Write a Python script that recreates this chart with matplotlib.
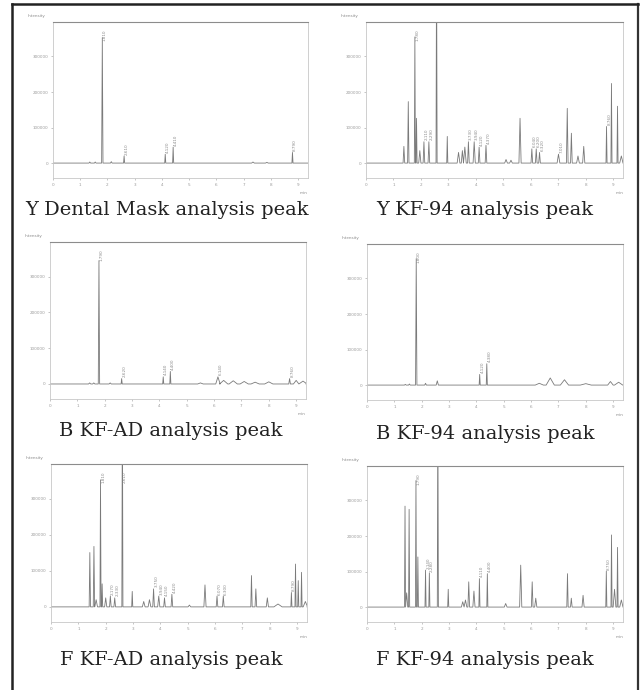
"""Six GC chromatograms of mask extracts, laid out as a 3x2 figure"""

import matplotlib
matplotlib.use('Agg')
import matplotlib.pyplot as plt
import numpy as np

W, H = 640, 690

# --- peak tables: retention time (min), height, half width (min)
y_dental_rt = [1.35, 1.55, 1.81, 2.14, 2.61, 4.12, 4.41, 7.34, 7.85, 8.79]
y_dental_h = [3000, 3000, 353000, 4000, 20000, 25000, 45000, 3000, 2000, 30000]
y_dental_w = [0.03, 0.03, 0.025, 0.03, 0.02, 0.02, 0.02, 0.05, 0.05, 0.02]
y_dental_labels = [1.81, 2.61, 4.12, 4.41, 8.79]

y_kf94_rt = [1.38, 1.54, 1.78, 1.84, 1.96, 2.11, 2.29, 2.57, 2.96, 3.37, 3.51, 3.60, 3.73,
             3.94, 4.12, 4.37, 5.10, 5.28, 5.61, 6.04, 6.20, 6.32, 7.01, 7.33, 7.48, 7.72,
             7.93, 8.76, 8.94, 9.16, 9.30]
y_kf94_h = [47000, 173000, 355000, 126000, 35000, 60000, 60000, 600000, 75000, 30000, 35000,
            45000, 60000, 60000, 45000, 50000, 10000, 8000, 126000, 40000, 40000, 30000,
            25000, 154000, 84000, 20000, 47000, 103000, 224000, 160000, 20000]
y_kf94_w = [0.03, 0.025, 0.02, 0.02, 0.04, 0.03, 0.03, 0.02, 0.02, 0.05, 0.04, 0.05, 0.03,
            0.04, 0.03, 0.03, 0.05, 0.05, 0.04, 0.03, 0.03, 0.03, 0.05, 0.03, 0.03, 0.05,
            0.04, 0.02, 0.02, 0.02, 0.06]
y_kf94_labels = [1.78, 2.11, 2.29, 3.73, 3.94, 4.12, 4.37, 6.04, 6.20, 6.32, 7.01, 8.76]

b_kfad_rt = [1.45, 1.60, 1.79, 2.20, 2.62, 4.14, 4.40, 5.50, 6.14, 6.35, 6.70, 7.10, 7.50,
             8.00, 8.76, 9.00, 9.25]
b_kfad_h = [3000, 3000, 345000, 3000, 15000, 20000, 35000, 3000, 20000, 10000, 9000, 7000,
            5000, 6000, 15000, 10000, 8000]
b_kfad_w = [0.04, 0.04, 0.025, 0.04, 0.02, 0.02, 0.02, 0.1, 0.08, 0.15, 0.15, 0.15, 0.15,
            0.15, 0.03, 0.1, 0.15]
b_kfad_labels = [1.79, 2.62, 4.14, 4.40, 6.14, 8.76]

b_kf94_rt = [1.40, 1.55, 1.80, 2.14, 2.57, 4.12, 4.38, 6.30, 6.70, 7.22, 8.00, 8.90, 9.20]
b_kf94_h = [2000, 3000, 356000, 5000, 12000, 30000, 60000, 5000, 20000, 15000, 4000,
            10000, 8000]
b_kf94_w = [0.03, 0.03, 0.025, 0.03, 0.04, 0.02, 0.02, 0.15, 0.15, 0.15, 0.2, 0.1, 0.15]
b_kf94_labels = [1.80, 4.12, 4.38]

f_kfad_rt = [1.42, 1.57, 1.65, 1.81, 1.87, 2.00, 2.17, 2.33, 2.61, 2.97, 3.39, 3.60, 3.75,
             3.94, 4.15, 4.42, 5.06, 5.63, 6.07, 6.30, 7.33, 7.49, 7.91, 8.30, 8.79, 8.94,
             9.04, 9.16, 9.30]
f_kfad_h = [151000, 168000, 20000, 353000, 64000, 25000, 30000, 25000, 600000, 43000, 15000,
            20000, 50000, 30000, 25000, 35000, 5000, 61000, 30000, 30000, 87000, 50000,
            25000, 8000, 40000, 119000, 73000, 96000, 15000]
f_kfad_w = [0.025, 0.025, 0.05, 0.02, 0.02, 0.04, 0.03, 0.03, 0.02, 0.02, 0.05, 0.05, 0.03,
            0.04, 0.03, 0.03, 0.05, 0.04, 0.03, 0.03, 0.025, 0.03, 0.04, 0.15, 0.02, 0.02,
            0.02, 0.02, 0.08]
f_kfad_labels = [1.81, 2.17, 2.33, 2.61, 3.75, 3.94, 4.15, 4.42, 6.07, 6.30, 8.79]

f_kf94_rt = [1.39, 1.45, 1.54, 1.79, 1.86, 2.14, 2.28, 2.59, 2.97, 3.50, 3.60, 3.72, 3.91,
             4.11, 4.40, 5.07, 5.62, 6.04, 6.17, 7.33, 7.47, 7.90, 8.75, 8.94, 9.05, 9.16,
             9.30]
f_kf94_h = [284000, 40000, 275000, 356000, 141000, 104000, 96000, 600000, 50000, 15000,
            20000, 71000, 45000, 80000, 94000, 10000, 118000, 71000, 25000, 94000, 25000,
            33000, 101000, 203000, 50000, 168000, 20000]
f_kf94_w = [0.02, 0.04, 0.02, 0.02, 0.02, 0.02, 0.02, 0.02, 0.02, 0.05, 0.05, 0.03, 0.04,
            0.02, 0.02, 0.05, 0.04, 0.03, 0.04, 0.025, 0.03, 0.04, 0.02, 0.02, 0.05, 0.02,
            0.06]
f_kf94_labels = [1.79, 2.14, 2.28, 4.11, 4.40, 8.75]

captions = ['Y Dental Mask analysis peak', 'Y KF-94 analysis peak',
            'B KF-AD analysis peak', 'B KF-94 analysis peak',
            'F KF-AD analysis peak', 'F KF-94 analysis peak']

x_ticks = [0, 1, 2, 3, 4, 5, 6, 7, 8, 9]
y_ticks = [0, 100000, 200000, 300000]
y_tick_labels = ['0', '100000', '200000', '300000']

panels = [
    (y_dental_rt, y_dental_h, y_dental_w, y_dental_labels),
    (y_kf94_rt, y_kf94_h, y_kf94_w, y_kf94_labels),
    (b_kfad_rt, b_kfad_h, b_kfad_w, b_kfad_labels),
    (b_kf94_rt, b_kf94_h, b_kf94_w, b_kf94_labels),
    (f_kfad_rt, f_kfad_h, f_kfad_w, f_kfad_labels),
    (f_kf94_rt, f_kf94_h, f_kf94_w, f_kf94_labels),
]

# axes boxes in pixels: left, top, right, bottom
boxes = [(53, 22, 308, 178), (366, 22, 623, 178),
         (50, 242, 306, 399), (367, 244, 623, 400),
         (51, 464, 307, 622), (367, 466, 623, 622)]
caption_pos = [(167, 210), (485, 210), (171, 431), (485, 434), (171, 660), (485, 660)]

X_MAX = 9.36
TRACE = '#7a7a7a'


def build_trace(rt, h, w):
    """Turn a peak table into a polyline: baseline - apex - baseline for each peak"""
    order = np.argsort(rt)
    xs, ys = [0.0], [0.0]
    for i in order:
        xs += [rt[i] - w[i], rt[i], rt[i] + w[i]]
        ys += [0.0, h[i], 0.0]
    xs.append(X_MAX)
    ys.append(0.0)
    return xs, ys


fig = plt.figure(figsize=(W / 100, H / 100), dpi=100)

# outer frame (open at the bottom, like the scanned page)
fig.add_artist(plt.Line2D([12 / W, 12 / W], [0, 1 - 4 / H], color='#222222', lw=1.8))
fig.add_artist(plt.Line2D([638 / W, 638 / W], [0, 1 - 4 / H], color='#333333', lw=1.6))
fig.add_artist(plt.Line2D([12 / W, 638 / W], [1 - 4 / H, 1 - 4 / H], color='#222222', lw=1.8))

for (rt, h, w, labels), (l, t, r, b), cap, (cx, cy) in zip(panels, boxes, captions, caption_pos):
    ax = fig.add_axes([l / W, 1 - b / H, (r - l) / W, (b - t) / H])
    xs, ys = build_trace(rt, h, w)
    ax.plot(xs, ys, color=TRACE, lw=0.6)

    # retention time labels above the labelled peaks
    for lab in labels:
        i = int(np.argmin(np.abs(np.array(rt) - lab)))
        top = min(h[i], 340000)
        ax.text(rt[i] + 0.1, top + 4000, f'{rt[i]:.3f}', rotation=90, fontsize=3,
                color='#8a8a8a', ha='center', va='bottom')

    ax.set_xlim(0, X_MAX)
    ax.set_ylim(-42000, 397000)
    ax.set_xticks(x_ticks)
    ax.set_xticklabels([str(v) for v in x_ticks])
    ax.set_yticks(y_ticks)
    ax.set_yticklabels(y_tick_labels)
    ax.tick_params(labelsize=3, colors='#9a9a9a', length=1.5, width=0.4, pad=2)

    for side in ['left', 'bottom', 'right']:
        ax.spines[side].set_color('#c8c8c8')
        ax.spines[side].set_linewidth(0.6)
    ax.spines['top'].set_color('#8c8c8c')
    ax.spines['top'].set_linewidth(0.8)

    ax.text(-0.03, 1.04, 'Intensity', transform=ax.transAxes, fontsize=3, color='#8a8a8a',
            ha='right', va='center')
    ax.text(1.0, -0.095, 'min', transform=ax.transAxes, fontsize=3, color='#8a8a8a',
            ha='right', va='center')

    fig.text(cx / W, 1 - cy / H, cap, fontsize=14, family='DejaVu Serif',
             color='#222222', ha='center', va='center')

plt.savefig('out.png', dpi=100)
plt.close()
